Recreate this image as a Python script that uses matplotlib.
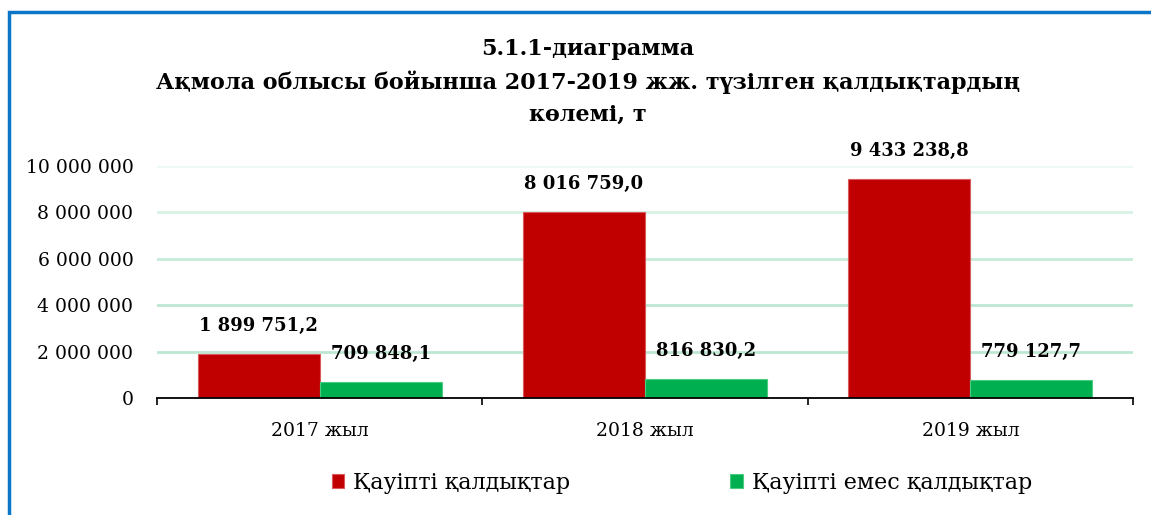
import matplotlib
matplotlib.use("Agg")
import matplotlib.pyplot as plt
from matplotlib.patches import Rectangle
import numpy as np

plt.rcParams['font.family'] = ['DejaVu Serif', 'Liberation Serif']

categories = ['2017 жыл', '2018 жыл', '2019 жыл']
hazardous = [1899751.2, 8016759.0, 9433238.8]
non_hazardous = [709848.1, 816830.2, 779127.7]
hazardous_labels = ['1 899 751,2', '8 016 759,0', '9 433 238,8']
non_hazardous_labels = ['709 848,1', '816 830,2', '779 127,7']
series_names = ['Қауіпті қалдықтар', 'Қауіпті емес қалдықтар']
yticks = [0, 2000000, 4000000, 6000000, 8000000, 10000000]
ytick_labels = ['0', '2 000 000', '4 000 000', '6 000 000', '8 000 000', '10 000 000']
title_text = '5.1.1-диаграмма\nАқмола облысы бойынша 2017-2019 жж. түзілген қалдықтардың\nкөлемі, т'

W, H = 1151, 515
fig = plt.figure(figsize=(W / 100, H / 100), dpi=100)
ax = fig.add_axes([157 / W, 1 - 398 / H, (1133 - 157) / W, (398 - 166) / H])

x = np.arange(len(categories))
bw = 0.375
red = '#C00000'
green = '#00B050'
b1 = ax.bar(x - bw / 2, hazardous, bw, color=red, edgecolor='#D9595C', linewidth=0.8,
            label=series_names[0], zorder=3)
b2 = ax.bar(x + bw / 2, non_hazardous, bw, color=green, edgecolor='#4CCB84', linewidth=0.8,
            label=series_names[1], zorder=3)

for rects, labs in ((b1, hazardous_labels), (b2, non_hazardous_labels)):
    for r, lab in zip(rects, labs):
        ax.annotate(lab, (r.get_x() + r.get_width() / 2, r.get_height()),
                    xytext=(0, 20), textcoords='offset points', ha='center', va='center',
                    fontsize=13, fontweight='bold', annotation_clip=False)

ax.set_xlim(-0.5, len(categories) - 0.5)
ax.set_ylim(0, 10000000)
ax.set_yticks(yticks)
ax.set_yticklabels(ytick_labels, fontsize=13.5)
ax.tick_params(axis='y', length=0, pad=17)
ax.set_xticks(x)
ax.set_xticklabels(categories, fontsize=13.5)
ax.set_xticks(np.arange(-0.5, len(categories)), minor=True)
ax.tick_params(axis='x', which='major', length=0, pad=17)
ax.tick_params(axis='x', which='minor', length=5, width=1.2, direction='out', color='black')

for s in ('top', 'right', 'left'):
    ax.spines[s].set_visible(False)
ax.spines['bottom'].set_linewidth(1.3)
ax.spines['bottom'].set_zorder(4)

ax.yaxis.grid(True, linewidth=2, zorder=0)
grid_alphas = [0.0, 0.75, 0.75, 0.65, 0.45, 0.2]
for gl, a in zip(ax.get_ygridlines(), grid_alphas):
    gl.set_color('#A8E0C4')
    gl.set_alpha(a)
ax.set_axisbelow(True)

fig.text(588 / W, 1 - 82 / H, title_text, ha='center', va='center', fontsize=16,
         fontweight='bold', linespacing=1.55)

fig.legend(handles=[b1, b2], labels=series_names, loc='center',
           bbox_to_anchor=(682 / W, 1 - 483 / H), ncol=2, frameon=False,
           fontsize=16, handlelength=0.55, handleheight=0.55, handletextpad=0.4,
           columnspacing=7.2)

fig.patches.append(Rectangle((9 / W, -0.1), 1.2, 1 - 12 / H + 0.1, transform=fig.transFigure,
                             fill=False, edgecolor='#0B76C8', linewidth=2.5))

fig.savefig('out.png', dpi=100)
